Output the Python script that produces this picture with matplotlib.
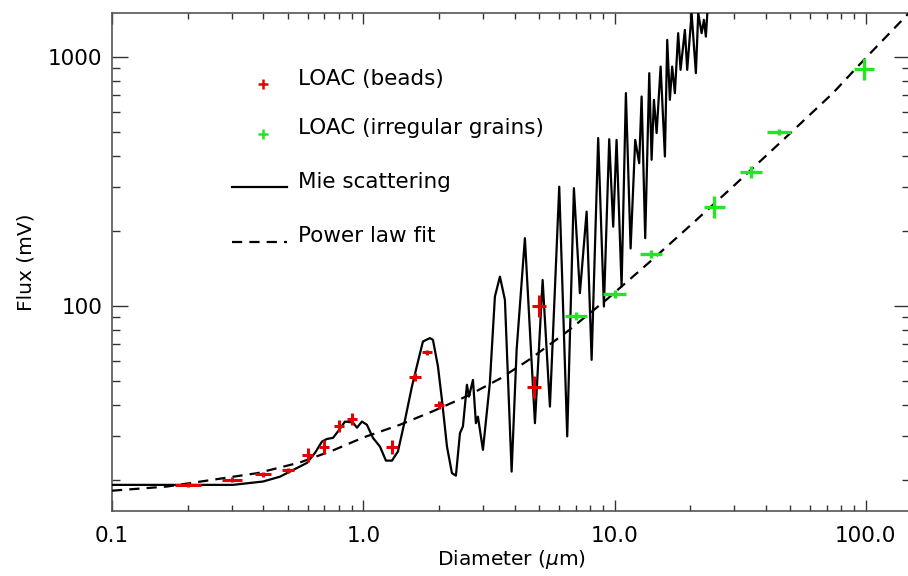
import numpy as np
import matplotlib
matplotlib.use("Agg")
import matplotlib.pyplot as plt
from matplotlib.ticker import FixedLocator, FixedFormatter, LogLocator, NullFormatter

# ---------------- data ----------------
beads_d = [0.2, 0.3, 0.4, 0.5, 0.6, 0.7, 0.8, 0.9, 1.3, 1.6, 1.8, 2.0, 4.8, 5.0]
beads_f = [19.1, 20.0, 21.1, 21.9, 25.1, 27.1, 33.0, 35.1, 27.1, 52.0, 65.2, 40.0, 47.2, 100.0]
beads_xerr_dex = [0.052, 0.040, 0.032, 0.024, 0.020, 0.020, 0.020, 0.020, 0.024, 0.024, 0.020, 0.020, 0.028, 0.028]
beads_yerr_dex = [0.010, 0.010, 0.010, 0.010, 0.028, 0.028, 0.024, 0.024, 0.028, 0.016, 0.010, 0.016, 0.044, 0.044]

grains_d = [7.0, 10.0, 14.0, 25.0, 35.0, 45.0, 98.0]
grains_f = [91.2, 111.7, 161.8, 249.0, 346.0, 501.0, 895.0]
grains_xerr_dex = [0.044, 0.044, 0.044, 0.040, 0.044, 0.048, 0.040]
grains_yerr_dex = [0.016, 0.016, 0.016, 0.044, 0.024, 0.012, 0.044]

mie_d = [0.1, 0.303, 0.399, 0.466, 0.525, 0.597, 0.643, 0.685, 0.717, 0.758, 0.793,
         0.846, 0.910, 0.944, 0.988, 1.034, 1.093, 1.166, 1.231, 1.301, 1.374, 1.466,
         1.562, 1.651, 1.728, 1.842, 1.894, 1.983, 2.057, 2.154, 2.254, 2.338, 2.426,
         2.493, 2.586, 2.634, 2.733, 2.808, 2.860, 2.995, 3.19, 3.342, 3.499, 3.663,
         3.895, 4.078, 4.399, 4.823, 5.175, 5.533, 6.026, 6.483, 6.893, 7.283, 7.745,
         8.108, 8.611, 9.075, 9.526, 9.88, 10.19, 10.67, 11.10, 11.59, 12.09, 12.54,
         12.82, 13.25, 13.75, 14.05, 14.35, 14.71, 15.26, 15.87, 16.21, 16.61, 16.96,
         17.39, 17.92, 18.32, 19.06, 19.47, 20.27, 21.08, 21.54, 22.22, 22.69, 23.1, 23.6]
mie_f = [19.1, 19.1, 19.7, 20.6, 21.9, 23.4, 25.7, 28.5, 29.2, 29.5, 31.3,
         34.3, 34.0, 32.4, 34.3, 33.3, 29.5, 27.2, 23.9, 23.9, 26.0, 34.8,
         47.4, 59.7, 71.9, 74.2, 73.0, 57.1, 41.9, 27.2, 21.3, 20.8, 30.8,
         32.8, 48.2, 43.2, 50.4, 33.8, 35.9, 26.4, 48.9, 109.0, 131.0, 105.7,
         21.6, 66.6, 187.0, 33.8, 127.0, 39.4, 301.0, 29.9, 297.0, 112.5, 239.0,
         60.7, 472.0, 99.4, 467.0, 208.0, 464.0, 119.5, 715.0, 170.0, 464.0, 374.0,
         693.0, 187.0, 860.0, 386.0, 672.0, 494.0, 914.0, 398.0, 1170.0, 672.0, 914.0,
         715.0, 1245.0, 887.0, 1283.0, 887.0, 1498.0, 860.0, 1498.0, 1245.0, 1408.0, 1206.0, 1700.0]

fit_d = [0.1, 0.165, 0.25, 0.38, 0.56, 0.76, 1.0, 1.4, 1.9, 2.6, 3.5, 4.6, 6.5, 9.3,
         13.8, 20.0, 30.0, 47.0, 74.0, 100.0, 150.0]
fit_f = [18.1, 18.8, 20.0, 21.3, 23.5, 26.3, 29.6, 33.3, 37.8, 43.5, 51.0, 61.0, 79.0, 106.0,
         150.0, 210.0, 305.0, 465.0, 715.0, 990.0, 1515.0]

x_tick_vals = [0.1, 1.0, 10.0, 100.0]
x_tick_labels = ["0.1", "1.0", "10.0", "100.0"]
y_tick_vals = [100, 1000]
y_tick_labels = ["100", "1000"]

legend_labels = ["LOAC (beads)", "LOAC (irregular grains)", "Mie scattering", "Power law fit"]

RED = "#e60000"
GREEN = "#22e622"
SPINE = "#555555"

# ---------------- figure ----------------
fig = plt.figure(figsize=(9.08, 5.76), dpi=100)
ax = fig.add_axes([112 / 908, (576 - 511) / 576, 798 / 908, 498 / 576])
ax.set_xscale("log")
ax.set_yscale("log")
ax.set_xlim(0.1, 150)
ax.set_ylim(15, 1500)


def asym(vals, dex):
    v = np.asarray(vals, float)
    d = np.asarray(dex, float)
    return np.vstack([v - v * 10 ** (-d), v * 10 ** d - v])


DASH = (4.6, 3.2)

ax.plot(mie_d, mie_f, color="black", lw=1.6, zorder=3)
fit_line, = ax.plot(fit_d, fit_f, color="black", lw=1.6, zorder=3)
fit_line.set_dashes(DASH)

ax.errorbar(beads_d, beads_f, xerr=asym(beads_d, beads_xerr_dex), yerr=asym(beads_f, beads_yerr_dex),
            fmt="none", ecolor=RED, elinewidth=2.2, capsize=0, zorder=4)
ax.errorbar(grains_d, grains_f, xerr=asym(grains_d, grains_xerr_dex), yerr=asym(grains_f, grains_yerr_dex),
            fmt="none", ecolor=GREEN, elinewidth=2.4, capsize=0, zorder=4)

# ticks
ax.xaxis.set_major_locator(FixedLocator(x_tick_vals))
ax.xaxis.set_major_formatter(FixedFormatter(x_tick_labels))
ax.xaxis.set_minor_locator(LogLocator(base=10, subs=np.arange(2, 10), numticks=20))
ax.xaxis.set_minor_formatter(NullFormatter())
ax.yaxis.set_major_locator(FixedLocator(y_tick_vals))
ax.yaxis.set_major_formatter(FixedFormatter(y_tick_labels))
ax.yaxis.set_minor_locator(LogLocator(base=10, subs=np.arange(2, 10), numticks=20))
ax.yaxis.set_minor_formatter(NullFormatter())

ax.tick_params(axis="both", which="both", direction="in", top=True, right=True,
               colors="#333333", labelcolor="black", width=1.0)
ax.tick_params(axis="x", which="major", length=8, labelsize=15.5, pad=11)
ax.tick_params(axis="x", which="minor", length=4)
ax.tick_params(axis="y", which="major", length=11.5, labelsize=15.5, pad=7)
ax.tick_params(axis="y", which="minor", length=5.8)

for s in ax.spines.values():
    s.set_color(SPINE)
    s.set_linewidth(1.2)

ax.set_xlabel(r"Diameter ($\mu$m)", fontsize=14.5, labelpad=1)
ax.set_ylabel("Flux (mV)", fontsize=14.5, labelpad=9)

# legend (manual, axes fraction)
tr = ax.transAxes
ax.plot([0.1892], [0.8574], marker="+", ms=6.5, mew=1.8, color=RED, transform=tr, clip_on=False)
ax.plot([0.1892], [0.7570], marker="+", ms=6.5, mew=1.8, color=GREEN, transform=tr, clip_on=False)
ax.plot([0.1504, 0.2193], [0.6506, 0.6506], color="black", lw=1.6, transform=tr)
leg_dash, = ax.plot([0.1504, 0.2193], [0.540, 0.540], color="black", lw=1.6, transform=tr)
leg_dash.set_dashes(DASH)
for lab, fy in zip(legend_labels, [0.8554, 0.7564, 0.648, 0.5396]):
    ax.text(0.2331, fy, lab, transform=tr, fontsize=15.5, va="baseline", ha="left")

fig.savefig("out.png", dpi=100)
